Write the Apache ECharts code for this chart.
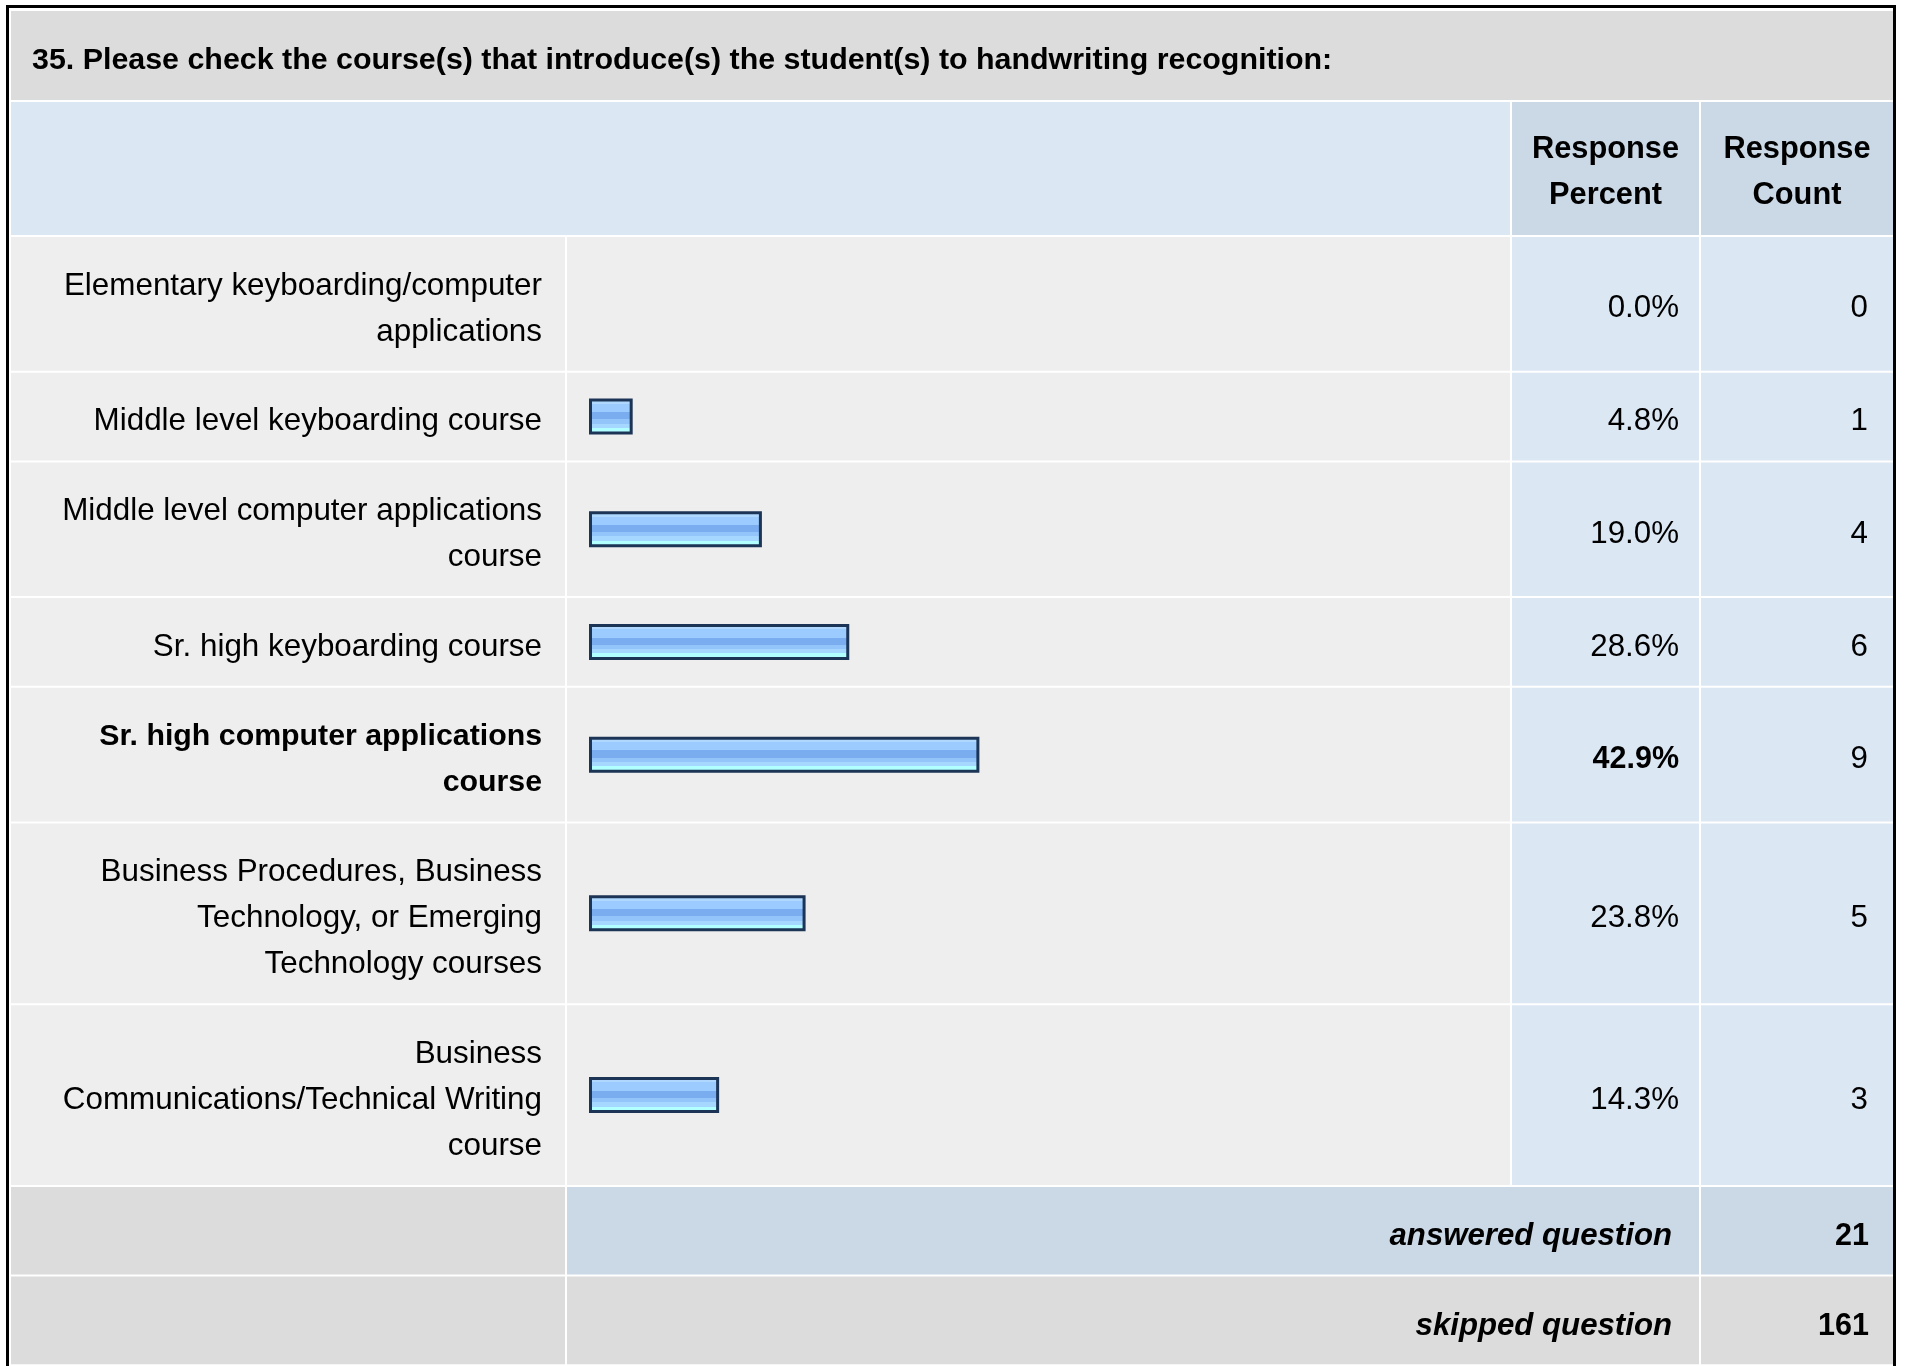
<!DOCTYPE html>
<html><head><meta charset="utf-8">
<script src="https://cdn.jsdelivr.net/npm/echarts@6/dist/echarts.min.js"></script>
<style>html,body{margin:0;padding:0;background:#fff;overflow:hidden}#c{width:1907px;height:1366px}</style>
</head><body><div id="c"></div>
<script>
// ---------- data ----------
const titleText = "35. Please check the course(s) that introduce(s) the student(s) to handwriting recognition:";
const categories = [
  "Elementary keyboarding/computer\napplications",
  "Middle level keyboarding course",
  "Middle level computer applications\ncourse",
  "Sr. high keyboarding course",
  "Sr. high computer applications\ncourse",
  "Business Procedures, Business\nTechnology, or Emerging\nTechnology courses",
  "Business\nCommunications/Technical Writing\ncourse"
];
const percents = [0.0, 4.8, 19.0, 28.6, 42.9, 23.8, 14.3];
const counts = [0, 1, 4, 6, 9, 5, 3];
const headerLabels = ["Response\nPercent", "Response\nCount"];
const footerLabels = ["answered question", "skipped question"];
const footerValues = [21, 161];

// ---------- layout ----------
const FAM = '"Liberation Sans", Arial, Helvetica, sans-serif';
const X0 = 11, LABEL_R = 565, BAR_L = 567, PCT_L = 1512, CNT_L = 1701, X1 = 1893;
const GAP = 2, LINE_H = 46, PAD = 41.7;
const TITLE_TOP = 11, TITLE_BOT = 100, HEAD_TOP = 102, HEAD_BOT = 235;
const BAR_X = 589, BAR_W = 910; // 0..100 %
const DY = 5; // text baseline nudge
const boldRow = percents.indexOf(Math.max(...percents));

const rows = [];
let y = HEAD_BOT + GAP;
categories.forEach(c => {
  const n = c.split("\n").length;
  const h = PAD + LINE_H * n;
  rows.push({ top: y, h: h });
  y += h + GAP;
});
const footRows = [];
footerLabels.forEach(() => {
  const h = PAD + LINE_H;
  footRows.push({ top: y, h: h });
  y += h + GAP;
});

const graphics = [];
function rect(x, yy, w, h, fill) {
  graphics.push({ type: 'rect', z: -10, silent: true, shape: { x: x, y: yy, width: w, height: h }, style: { fill: fill } });
}
function text(t, x, yy, font, align) {
  graphics.push({ type: 'text', z: 50, silent: true, x: x, y: yy,
    style: { text: t, font: font, fill: '#000', align: align, verticalAlign: 'middle', textAlign: align, textVerticalAlign: 'middle', lineHeight: LINE_H } });
}
// outer frame
graphics.push({ type: 'rect', z: -20, silent: true, shape: { x: 7.5, y: 6.5, width: 1887, height: 1420 }, style: { fill: '#fff', stroke: '#000', lineWidth: 3 } });
// title
rect(X0, TITLE_TOP, X1 - X0, TITLE_BOT - TITLE_TOP, '#dcdcdc');
text(titleText, 32, (TITLE_TOP + TITLE_BOT) / 2 + 1 + 4, 'bold 30.4px ' + FAM, 'left');
// header
rect(X0, HEAD_TOP, PCT_L - GAP - X0, HEAD_BOT - HEAD_TOP, '#dce7f4');
rect(PCT_L, HEAD_TOP, CNT_L - GAP - PCT_L, HEAD_BOT - HEAD_TOP, '#cbd8e6');
rect(CNT_L, HEAD_TOP, X1 - CNT_L, HEAD_BOT - HEAD_TOP, '#cbd8e6');
text(headerLabels[0], (PCT_L + CNT_L - GAP) / 2, (HEAD_TOP + HEAD_BOT) / 2 + 4, 'bold 30.8px ' + FAM, 'center');
text(headerLabels[1], (CNT_L + X1) / 2, (HEAD_TOP + HEAD_BOT) / 2 + 4, 'bold 30.8px ' + FAM, 'center');
// body rows
rows.forEach((r, i) => {
  rect(X0, r.top, LABEL_R - X0, r.h, '#eeeeee');
  rect(BAR_L, r.top, PCT_L - GAP - BAR_L, r.h, '#eeeeee');
  rect(PCT_L, r.top, CNT_L - GAP - PCT_L, r.h, '#dce7f4');
  rect(CNT_L, r.top, X1 - CNT_L, r.h, '#dce7f4');
  const cy = r.top + r.h / 2 + DY;
  text(percents[i].toFixed(1) + '%', 1679, cy, (i === boldRow ? 'bold 30.5px ' : '31.3px ') + FAM, 'right');
  text(String(counts[i]), 1868, cy, '31.3px ' + FAM, 'right');
});
// footer
footRows.forEach((r, i) => {
  const mid = i === 0 ? '#cbd8e6' : '#dcdcdc';
  rect(X0, r.top, LABEL_R - X0, r.h, '#dcdcdc');
  rect(BAR_L, r.top, CNT_L - GAP - BAR_L, r.h, mid);
  rect(CNT_L, r.top, X1 - CNT_L, r.h, mid);
  const cy = r.top + r.h / 2 + DY + 1;
  text(footerLabels[i], 1672, cy, 'italic bold 31.2px ' + FAM, 'right');
  text(String(footerValues[i]), 1869, cy, 'bold 30.5px ' + FAM, 'right');
});

// ---------- bars (one grid per row, since rows differ in height) ----------
const barGradient = new echarts.graphic.LinearGradient(0, 0, 0, 1, [
  { offset: 0.00, color: '#c8e4ff' }, { offset: 0.07, color: '#c8e4ff' },
  { offset: 0.07, color: '#b0d8ff' }, { offset: 0.15, color: '#b0d8ff' },
  { offset: 0.15, color: '#9ccbff' }, { offset: 0.38, color: '#9ccbff' },
  { offset: 0.38, color: '#79adf0' }, { offset: 0.58, color: '#79adf0' },
  { offset: 0.58, color: '#93c5fb' }, { offset: 0.70, color: '#93c5fb' },
  { offset: 0.70, color: '#a6d8ff' }, { offset: 0.82, color: '#a6d8ff' },
  { offset: 0.82, color: '#b2ffff' }, { offset: 1.00, color: '#b2ffff' }
]);

const grids = [], xAxes = [], yAxes = [], series = [];
rows.forEach((r, i) => {
  const bold = i === boldRow;
  grids.push({ left: BAR_X, width: BAR_W, top: r.top, height: r.h, containLabel: false });
  xAxes.push({ gridIndex: i, type: 'value', min: 0, max: 100, show: false });
  yAxes.push({
    gridIndex: i, type: 'category', data: [categories[i]],
    axisLine: { show: false }, axisTick: { show: false }, splitLine: { show: false },
    axisLabel: {
      show: true, margin: BAR_X - 542, align: 'right', verticalAlign: 'middle',
      padding: [DY * 2, 0, 0, 0],
      formatter: v => v.split('\n').map(s => '{t|' + s + '}').join('\n'),
      rich: {
        t: {
          color: '#000', fontFamily: FAM, fontSize: bold ? 30.3 : 31.4,
          fontWeight: bold ? 'bold' : 'normal', lineHeight: LINE_H, align: 'right'
        }
      }
    }
  });
  series.push({
    type: 'bar', xAxisIndex: i, yAxisIndex: i, barWidth: 36, silent: true,
    data: [{ value: percents[i], itemStyle: { opacity: percents[i] > 0 ? 1 : 0 } }],
    itemStyle: { color: barGradient, borderColor: '#1c3456', borderWidth: 3 },
    label: { show: false }
  });
});

const chart = echarts.init(document.getElementById('c'), null, { renderer: 'canvas' });
chart.setOption({
  animation: false,
  backgroundColor: '#fff',
  tooltip: { show: false },
  grid: grids, xAxis: xAxes, yAxis: yAxes, series: series,
  graphic: { elements: graphics }
});
</script>
</body></html>
